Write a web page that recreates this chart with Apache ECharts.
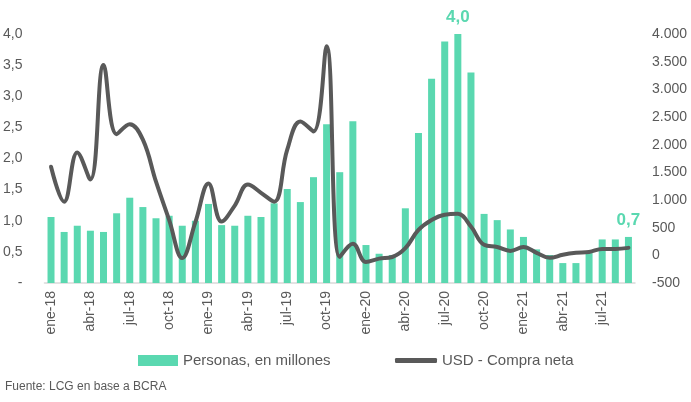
<!DOCTYPE html>
<html>
<head>
<meta charset="utf-8">
<script src="https://cdn.jsdelivr.net/npm/echarts@6/dist/echarts.min.js"></script>
<style>
    body { margin: 0; background: #ffffff; }
    #chart { width: 691px; height: 402px; }
</style>
</head>
<body>
<div id="chart"></div>
<script>
    // meses ene-18 .. sep-21
    var meses = ['ene', 'feb', 'mar', 'abr', 'may', 'jun', 'jul', 'ago', 'sep', 'oct', 'nov', 'dic'];
    var categorias = [];
    for (var a = 18; a <= 21; a++) {
        for (var m = 0; m < 12; m++) {
            if (a == 21 && m > 8) break;
            categorias.push(meses[m] + '-' + a);
        }
    }

    // Personas, en millones (eje izq.)
    var personas = [1.06, 0.82, 0.92, 0.84, 0.82, 1.12, 1.37, 1.22, 1.04, 1.08, 0.92, 1.00,
        1.27, 0.93, 0.92, 1.08, 1.06, 1.28, 1.51, 1.30, 1.70, 2.55, 1.78, 2.60,
        0.61, 0.47, 0.45, 1.20, 2.41, 3.28, 3.88, 4.00, 3.38, 1.11, 1.01, 0.86,
        0.74, 0.54, 0.45, 0.32, 0.32, 0.48, 0.70, 0.70, 0.74];

    // USD - Compra neta (eje der.)
    var compraNeta = [1600, 970, 1860, 1370, 3440, 2190, 2370, 2090, 1330, 640, -50, 600,
        1300, 610, 900, 1280, 1130, 970, 1910, 2420, 2240, 3780, -30, 210,
        -120, -60, -30, 130, 460, 640, 735, 750, 520, 190, 150, 80,
        150, 45, -45, 10, 45, 60, 115, 115, 135];

    var etiquetas = {31: '4,0', 44: '0,7'};

    var verde = '#5ad8b0';
    var gris = '#595959';
    var fuente = 'Liberation Sans';

    var myChart = echarts.init(document.getElementById('chart'));
    myChart.setOption({
        animation: false,
        textStyle: {fontFamily: fuente},
        grid: {left: 44, right: 56, top: 34, bottom: 119},
        // dos leyendas para poder dar distinto alto a cada icono
        legend: [{
            top: 348,
            left: 133,
            itemWidth: 40,
            itemHeight: 11,
            textStyle: {color: gris, fontSize: 15, fontFamily: fuente},
            data: [{name: 'Personas, en millones', icon: 'rect'}]
        }, {
            top: 348,
            left: 390,
            itemWidth: 42,
            itemHeight: 5,
            textStyle: {color: gris, fontSize: 15, fontFamily: fuente},
            data: [{name: 'USD - Compra neta', icon: 'roundRect', itemStyle: {color: gris}}]
        }],
        graphic: [{
            type: 'text',
            left: 5,
            top: 381,
            style: {text: 'Fuente: LCG en base a BCRA', fill: gris, fontSize: 12, fontFamily: fuente}
        }],
        xAxis: {
            type: 'category',
            data: categorias,
            axisLine: {lineStyle: {color: '#d9d9d9', width: 1.5}},
            axisTick: {show: false},
            axisLabel: {rotate: 90, interval: 2, color: gris, fontSize: 14, margin: 8}
        },
        yAxis: [{
            type: 'value',
            min: 0,
            max: 4,
            interval: 0.5,
            splitLine: {show: false},
            axisLabel: {
                color: gris,
                fontSize: 14,
                margin: 22,
                formatter: function (v) {
                    return v == 0 ? '-' : v.toFixed(1).replace('.', ',');
                }
            }
        }, {
            type: 'value',
            min: -500,
            max: 4000,
            interval: 500,
            splitLine: {show: false},
            axisLabel: {
                color: gris,
                fontSize: 14,
                margin: 17,
                formatter: function (v) {
                    return v.toLocaleString('de-DE');
                }
            }
        }],
        series: [{
            name: 'Personas, en millones',
            type: 'bar',
            barWidth: 7,
            itemStyle: {color: verde},
            data: personas,
            label: {
                show: true,
                position: 'top',
                distance: 8,
                color: verde,
                fontSize: 17,
                fontWeight: 'bold',
                formatter: function (p) {
                    return etiquetas[p.dataIndex] || '';
                }
            }
        }, {
            name: 'USD - Compra neta',
            type: 'line',
            yAxisIndex: 1,
            smooth: 0.4,
            symbol: 'none',
            lineStyle: {color: gris, width: 4, cap: 'round'},
            itemStyle: {color: gris},
            data: compraNeta,
            z: 3
        }]
    });
</script>
</body>
</html>
